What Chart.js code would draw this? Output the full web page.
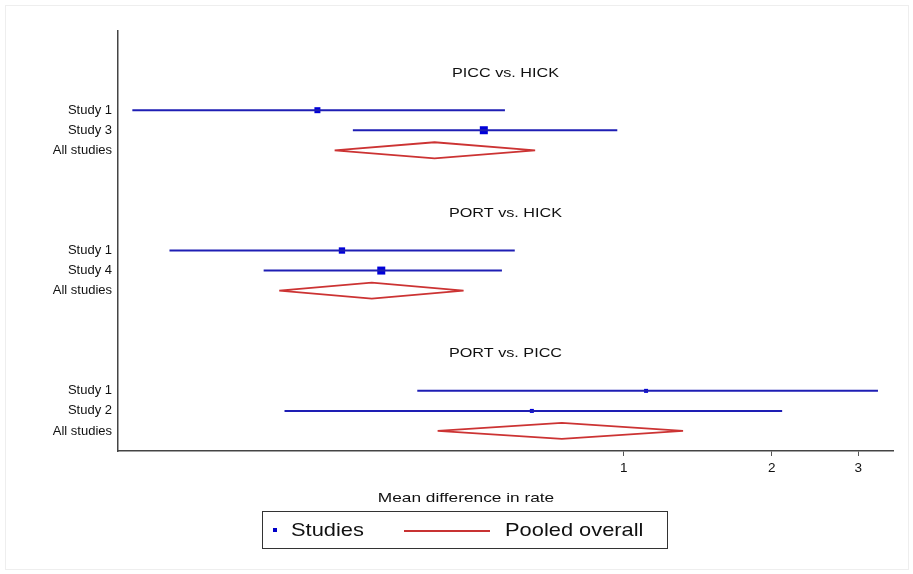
<!DOCTYPE html>
<html>
<head>
<meta charset="utf-8">
<script src="https://cdn.jsdelivr.net/npm/chart.js@4"></script>
<style>
  body { margin: 0; background: #fff; }
  #wrap { position: relative; width: 913px; height: 574px; font-family: "Liberation Sans", Arial, sans-serif; color: #111; }
  #frame { position: absolute; left: 5px; top: 5px; width: 902px; height: 563px; border: 1px solid #eee; }
  #chart { position: absolute; left: 0; top: 0; }
  #xtitle { position: absolute; left: 466px; top: 489px; font-size: 13.5px; line-height: 18px; white-space: nowrap;
            transform: translateX(-50%) scaleX(1.28); }
  #legend { position: absolute; left: 262px; top: 511px; width: 404px; height: 36px; border: 1px solid #333; }
  #legend .sw { position: absolute; left: 10px; top: 16px; width: 4px; height: 4px; background: #0000c8; }
  #legend .ln { position: absolute; left: 141px; top: 18px; width: 86px; height: 1.5px; background: #c83232; }
  #legend .tx { position: absolute; top: 7px; font-size: 19px; line-height: 22px; white-space: nowrap;
                transform: scaleX(1.15); transform-origin: left center; }
</style>
</head>
<body>
<div id="wrap">
  <div id="frame"></div>
  <canvas id="chart" width="913" height="574"></canvas>
  <div id="xtitle">Mean difference in rate</div>
  <div id="legend">
    <div class="sw"></div><div class="tx" style="left:28px">Studies</div>
    <div class="ln"></div><div class="tx" style="left:242px">Pooled overall</div>
  </div>
</div>
<script>
// comparisons and their studies
const groups = ['PICC vs. HICK', 'PORT vs. HICK', 'PORT vs. PICC'];
const studyLabels = [['Study 1', 'Study 3'], ['Study 1', 'Study 4'], ['Study 1', 'Study 2']];
const studyEst = [[0.238, 0.519], [0.267, 0.321], [1.11, 0.650]];
const studyLow = [[0.100, 0.281], [0.119, 0.185], [0.380, 0.204]];
const studyHigh = [[0.573, 0.970], [0.600, 0.565], [3.29, 2.10]];
const studyWeight = [[9, 16], [10, 16], [4, 4]];
// pooled estimates
const pooledLabel = 'All studies';
const pooledEst = [0.412, 0.307, 0.748];
const pooledLow = [0.258, 0.199, 0.418];
const pooledHigh = [0.660, 0.472, 1.32];
const xTicks = [1, 2, 3];

const blueLine = '#1e1eb4';
const blueBox = '#0000d8';
const red = '#cc3333';
const font = '"Liberation Sans", Arial, sans-serif';

// each group takes 7 rows: studies, pooled, then a gap
const rowStep = 7;
const rowValues = [];
const rowLabels = {};
const datasets = [];
const boxes = [];

groups.forEach((g, gi) => {
    const base = gi * rowStep;
    studyLabels[gi].forEach((lab, si) => {
        const y = base + si;
        rowValues.push(y);
        rowLabels[y] = lab;
        datasets.push({
            label: 'ci',
            data: [{ x: studyLow[gi][si], y: y }, { x: studyHigh[gi][si], y: y }],
            showLine: true,
            borderColor: blueLine,
            borderWidth: 2,
            pointRadius: 0
        });
        boxes.push({ x: studyEst[gi][si], y: y, r: Math.sqrt(studyWeight[gi][si]) * Math.SQRT2 });
    });
    const py = base + studyLabels[gi].length;
    rowValues.push(py);
    rowLabels[py] = pooledLabel;
    datasets.push({
        label: 'pooled',
        data: [
            { x: pooledLow[gi], y: py },
            { x: pooledEst[gi], y: py - 0.4 },
            { x: pooledHigh[gi], y: py },
            { x: pooledEst[gi], y: py + 0.4 },
            { x: pooledLow[gi], y: py }
        ],
        showLine: true,
        fill: false,
        tension: 0,
        borderColor: red,
        borderWidth: 1.8,
        pointRadius: 0
    });
});

datasets.push({
    label: 'studies',
    data: boxes.map(b => ({ x: b.x, y: b.y })),
    pointStyle: 'rect',
    pointRadius: boxes.map(b => b.r),
    backgroundColor: blueBox,
    borderColor: blueBox,
    borderWidth: 0
});

// group headings
const groupTitles = {
    id: 'groupTitles',
    afterDatasetsDraw(chart) {
        const { ctx, chartArea, scales } = chart;
        const cx = (chartArea.left + chartArea.right) / 2;
        ctx.save();
        ctx.fillStyle = '#111';
        ctx.font = '13.5px ' + font;
        ctx.textAlign = 'center';
        ctx.textBaseline = 'middle';
        groups.forEach((g, gi) => {
            const y = scales.y.getPixelForValue(gi * rowStep - 1.85);
            ctx.save();
            ctx.translate(cx, y);
            ctx.scale(1.2, 1);
            ctx.fillText(g, 0, 0);
            ctx.restore();
        });
        ctx.restore();
    }
};

new Chart(document.getElementById('chart').getContext('2d'), {
    type: 'scatter',
    data: { datasets: datasets },
    options: {
        responsive: false,
        animation: false,
        devicePixelRatio: 1,
        layout: { padding: { left: 0, top: 31, right: 20, bottom: 101 } },
        plugins: { legend: { display: false }, tooltip: { enabled: false } },
        scales: {
            x: {
                type: 'logarithmic',
                min: 0.0935,
                max: 3.53,
                bounds: 'data',
                afterBuildTicks: s => { s.ticks = xTicks.map(v => ({ value: v })); },
                afterFit: s => { s.height = 22; },
                grid: { drawOnChartArea: false, drawTicks: true, tickLength: 5, color: '#555' },
                border: { display: true, color: '#444', width: 1.5 },
                ticks: {
                    autoSkip: false, maxRotation: 0, padding: 4,
                    color: '#111', font: { family: font, size: 13.5 },
                    callback: v => String(v)
                }
            },
            y: {
                type: 'linear',
                reverse: true,
                min: -3.95,
                max: 17.0,
                afterBuildTicks: s => { s.ticks = rowValues.map(v => ({ value: v })); },
                afterFit: s => { s.width = 118; },
                grid: { drawOnChartArea: false, drawTicks: false },
                border: { display: true, color: '#444', width: 1.5 },
                ticks: {
                    autoSkip: false, padding: 6,
                    color: '#111', font: { family: font, size: 13 },
                    callback: v => rowLabels[v] || ''
                }
            }
        }
    },
    plugins: [groupTitles]
});
</script>
</body>
</html>
